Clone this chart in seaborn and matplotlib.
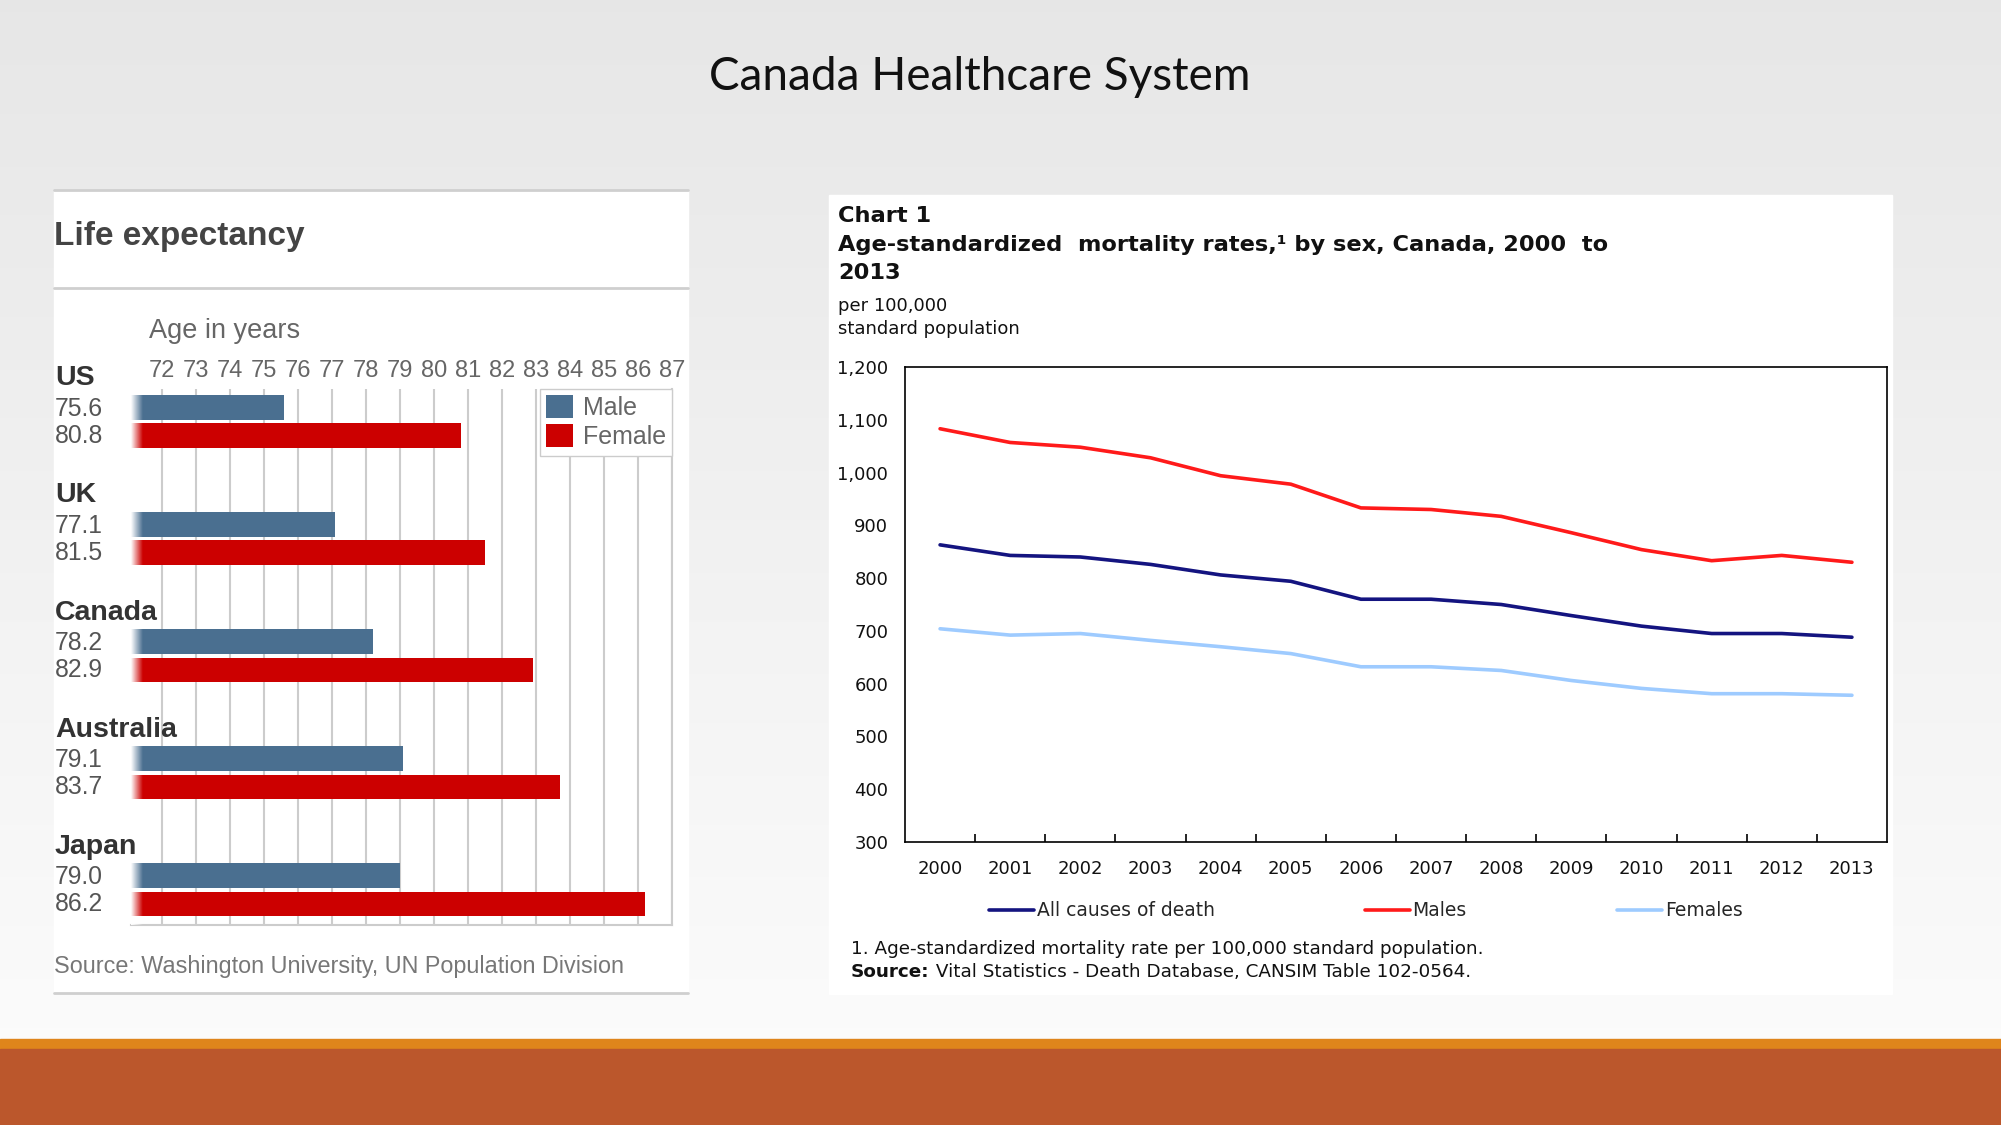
# Canada Healthcare System slide: life expectancy bars + mortality rate lines
import numpy as np
import pandas as pd
import matplotlib.pyplot as plt
import seaborn as sns
from matplotlib.patches import Rectangle
from matplotlib.lines import Line2D
from matplotlib.transforms import blended_transform_factory

# Life expectancy data
countries = ["US", "UK", "Canada", "Australia", "Japan"]
male_age = [75.6, 77.1, 78.2, 79.1, 79.0]
female_age = [80.8, 81.5, 82.9, 83.7, 86.2]
age_ticks = list(range(72, 88))

# Mortality rate data (per 100,000 standard population)
years = list(range(2000, 2014))
all_causes = [863, 843, 840, 826, 806, 794, 760, 760, 750, 729, 709, 695, 695, 688]
males = [1083, 1057, 1048, 1028, 994, 978, 933, 930, 917, 886, 854, 833, 843, 830]
females = [704, 692, 695, 682, 670, 657, 632, 632, 625, 606, 591, 581, 581, 578]
rate_ticks = list(range(300, 1201, 100))

W, H = 2001, 1125


def fx(px):
    return px / W


def fy(py):
    return 1 - py / H


sns.set_theme(style="white")
plt.rcParams['font.family'] = ['DejaVu Sans']

fig = plt.figure(figsize=(W / 100, H / 100), dpi=100)

# slide background
bg = fig.add_axes([0, 0, 1, 1], zorder=-10)
grad = np.linspace(0.905, 0.985, 256).reshape(-1, 1)
bg.imshow(np.dstack([grad] * 3), extent=[0, 1, fy(1040), 1], aspect='auto')
bg.add_patch(Rectangle((0, 0), 1, fy(1040), color='#fafafa'))
bg.add_patch(Rectangle((0, fy(1049)), 1, fy(1039) - fy(1049), color='#df851b'))
bg.add_patch(Rectangle((0, 0), 1, fy(1049), color='#bb572c'))
bg.set_xlim(0, 1)
bg.set_ylim(0, 1)
bg.axis('off')

fig.text(fx(980), fy(77), "Canada Healthcare System", ha='center', va='center',
         fontsize=33, family='Lato', color='#111111')

# ---------------- left panel: life expectancy ----------------
bg.add_patch(Rectangle((fx(54), fy(993)), fx(688) - fx(54), fy(190) - fy(993),
                       color='white', zorder=1))
for yy in [190, 288, 993]:
    bg.add_line(Line2D([fx(54), fx(688)], [fy(yy), fy(yy)], color='#cfcfcf', lw=2, zorder=2))

fig.text(fx(54), fy(237), "Life expectancy", ha='left', va='center', fontsize=24,
         fontweight='bold', family='Liberation Sans', color='#444444')
fig.text(fx(149), fy(331), "Age in years", ha='left', va='center', fontsize=19.5,
         family='Liberation Sans', color='#666666')
fig.text(fx(54), fy(967), "Source: Washington University, UN Population Division",
         ha='left', va='center', fontsize=16.8, family='Liberation Sans', color='#777777')

life = pd.DataFrame({
    'country': countries * 2,
    'sex': ['Male'] * len(countries) + ['Female'] * len(countries),
    'age': male_age + female_age,
})

ax1 = fig.add_axes([fx(131), fy(925), fx(672) - fx(131), fy(389) - fy(925)])
sns.barplot(data=life, y='country', x='age', hue='sex', orient='h',
            palette={'Male': '#4a6f90', 'Female': '#cc0000'}, saturation=1,
            width=0.48, gap=0.12, linewidth=0, ax=ax1)
ax1.set_facecolor('none')

# fade bars into the white at the left edge
fade = np.ones((1, 64, 4))
fade[0, :, 3] = np.linspace(1, 0, 64)
ax1.imshow(fade, extent=[71.09, 71.42, 4.3, -0.28], aspect='auto', zorder=5,
           interpolation='bilinear')

ax1.set_xlim(71.09, 87.0)
ax1.set_ylim(4.3, -0.28)
ax1.set_xticks(age_ticks)
ax1.xaxis.tick_top()
ax1.tick_params(axis='x', length=0, pad=5, labelsize=17, labelcolor='#666666')
for lab in ax1.get_xticklabels():
    lab.set_family('Liberation Sans')
ax1.set_yticks([])
ax1.set_xlabel('')
ax1.set_ylabel('')
ax1.set_axisbelow(True)
ax1.grid(axis='x', color='#cccccc', lw=1.5)
ax1.grid(axis='y', visible=False)
for side in ['top', 'left']:
    ax1.spines[side].set_visible(False)
for side in ['right', 'bottom']:
    ax1.spines[side].set_color('#cccccc')
    ax1.spines[side].set_linewidth(1.5)

sns.move_legend(ax1, 'upper right', bbox_to_anchor=(1, 1), borderaxespad=0, title=None,
                frameon=True, fancybox=False, framealpha=1, edgecolor='#cccccc',
                prop={'family': 'Liberation Sans', 'size': 18}, labelcolor='#666666',
                handlelength=1.05, handleheight=1.05, handletextpad=0.4,
                borderpad=0.25, labelspacing=0.15)

trans = blended_transform_factory(fig.transFigure, ax1.transData)
for i, name in enumerate(countries):
    ax1.text(fx(55), i - 0.37, name, transform=trans, ha='left', va='center', zorder=10,
             fontsize=20.5, fontweight='bold', family='Liberation Sans', color='#333333')
    ax1.text(fx(55), i - 0.11, f"{male_age[i]:.1f}", transform=trans, ha='left', zorder=10,
             va='center', fontsize=17.8, family='Liberation Sans', color='#555555')
    ax1.text(fx(55), i + 0.12, f"{female_age[i]:.1f}", transform=trans, ha='left', zorder=10,
             va='center', fontsize=17.8, family='Liberation Sans', color='#555555')

# ---------------- right panel: mortality rates ----------------
bg.add_patch(Rectangle((fx(829), fy(994)), fx(1892) - fx(829), fy(195) - fy(994),
                       color='white', zorder=1))

fig.text(fx(838), fy(216), "Chart 1", ha='left', va='center', fontsize=16.2,
         fontweight='bold', color='#111111')
fig.text(fx(838), fy(245), "Age-standardized  mortality rates,\u00b9 by sex, Canada, 2000  to",
         ha='left', va='center', fontsize=16.2, fontweight='bold', color='#111111')
fig.text(fx(838), fy(273), "2013", ha='left', va='center', fontsize=16.2,
         fontweight='bold', color='#111111')
fig.text(fx(838), fy(306), "per 100,000", ha='left', va='center', fontsize=13, color='#111111')
fig.text(fx(838), fy(329), "standard population", ha='left', va='center', fontsize=13,
         color='#111111')

note = fig.text(fx(851), fy(949), "1. Age-standardized mortality rate per 100,000 standard population.",
                ha='left', va='center', fontsize=13.2, color='#111111')
src = fig.text(fx(851), fy(972), "Source:", ha='left', va='center', fontsize=13.2,
               fontweight='bold', color='#111111')
bg.annotate(" Vital Statistics - Death Database, CANSIM Table 102-0564.", xy=(1, 0.5),
            xycoords=src, ha='left', va='center', fontsize=13.2, color='#111111')

rates = pd.DataFrame({
    'year': years * 3,
    'rate': all_causes + males + females,
    'series': (['All causes of death'] * len(years) + ['Males'] * len(years)
               + ['Females'] * len(years)),
})

ax2 = fig.add_axes([fx(905), fy(842), fx(1887) - fx(905), fy(367) - fy(842)])
sns.lineplot(data=rates, x='year', y='rate', hue='series',
             hue_order=['All causes of death', 'Males', 'Females'],
             palette={'All causes of death': '#141480', 'Males': '#ff1a1a',
                      'Females': '#9ecbff'},
             lw=2.6, ax=ax2)
ax2.set_xlim(1999.5, 2013.5)
ax2.set_ylim(300, 1200)
ax2.set_xticks(years)
ax2.set_xticks([y + 0.5 for y in years[:-1]], minor=True)
ax2.set_yticks(rate_ticks)
ax2.set_yticklabels([f"{v:,}" for v in rate_ticks])
ax2.tick_params(axis='both', which='major', length=0, labelsize=13, labelcolor='#111111')
ax2.tick_params(axis='x', which='major', pad=13)
ax2.tick_params(axis='y', which='major', pad=12)
ax2.tick_params(axis='x', which='minor', bottom=True, direction='in', length=6,
                width=1.2, color='black')
ax2.set_xlabel('')
ax2.set_ylabel('')
ax2.grid(False)
for side in ax2.spines:
    ax2.spines[side].set_color('black')
    ax2.spines[side].set_linewidth(1.2)

sns.move_legend(ax2, 'center left', bbox_to_anchor=(fx(989), fy(911)),
                bbox_transform=fig.transFigure, ncol=3, title=None, frameon=False,
                fontsize=13.5, handlelength=2.4, handletextpad=0.15,
                columnspacing=8.0, borderpad=0, borderaxespad=0)

fig.savefig('out.png', dpi=100)
